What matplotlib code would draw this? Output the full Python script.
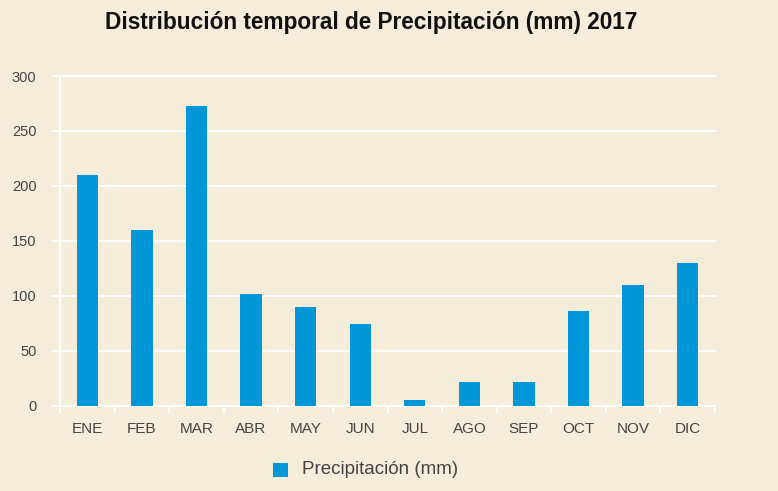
import matplotlib.pyplot as plt
import matplotlib.patches as patches
import numpy as np

# Data
meses = ['ENE', 'FEB', 'MAR', 'ABR', 'MAY', 'JUN', 'JUL', 'AGO', 'SEP', 'OCT', 'NOV', 'DIC']
precipitacion = [210, 160, 273, 102, 90, 74, 5, 22, 22, 86, 110, 130]
y_ticks = [0, 50, 100, 150, 200, 250, 300]

bg = '#F5EDD9'
bar_color = '#0096D8'
text_color = '#444444'
font = ['Liberation Sans Narrow', 'Liberation Sans', 'DejaVu Sans']

fig = plt.figure(figsize=(7.78, 4.91), dpi=100)
fig.patch.set_facecolor(bg)
ax = fig.add_axes([60 / 778, 85.3 / 491, 655 / 778, 329.7 / 491])
ax.set_facecolor(bg)

x = np.arange(len(meses))
ax.bar(x, precipitacion, width=0.39, color=bar_color, zorder=3)

ax.set_xlim(-0.5, len(meses) - 0.5)
ax.set_ylim(0, 300)

# white gridlines, extending a bit left of the axis
for t in y_ticks:
    ax.plot([-0.63, len(meses) - 0.5], [t, t], color='white', linewidth=1.5,
            clip_on=False, zorder=1)

for s in ['top', 'right', 'bottom']:
    ax.spines[s].set_visible(False)
ax.spines['left'].set_color('white')
ax.spines['left'].set_linewidth(1.5)

# category boundary ticks below the axis
for b in np.arange(-0.5, len(meses), 1.0):
    ax.plot([b, b], [0, -6], color='white', linewidth=1.5, clip_on=False, zorder=1)

ax.set_yticks(y_ticks)
ax.set_yticklabels([str(t) for t in y_ticks], fontsize=10.5, color=text_color, family=font)
ax.tick_params(axis='y', length=0, pad=17)
ax.set_xticks(x)
ax.set_xticklabels(meses, fontsize=11, color=text_color, family=font)
ax.tick_params(axis='x', length=0, pad=12)

fig.text(0.477, 0.955, 'Distribución temporal de Precipitación (mm) 2017',
         ha='center', va='center', fontsize=16.3, fontweight='bold',
         color='#111111', family=['Liberation Sans', 'DejaVu Sans'])

# legend
fig.patches.append(patches.Rectangle((273 / 778, (491 - 477) / 491), 15 / 778, 14 / 491,
                                     transform=fig.transFigure, facecolor=bar_color,
                                     edgecolor='none'))
fig.text(302 / 778, (491 - 470) / 491, 'Precipitación (mm)', ha='left', va='center',
         fontsize=13.5, color=text_color, family=font)

plt.savefig('out.png', dpi=100, facecolor=bg)
